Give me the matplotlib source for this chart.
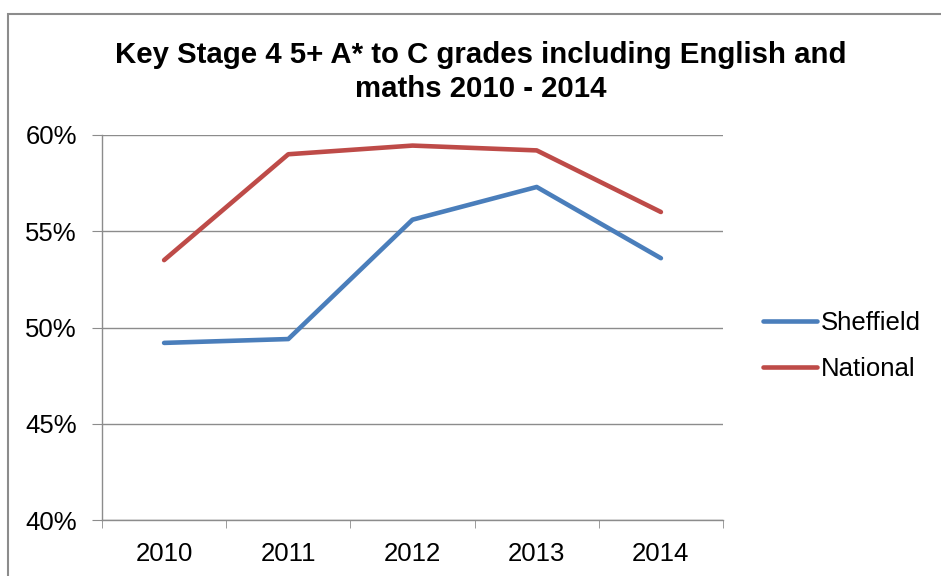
import matplotlib
matplotlib.use("Agg")
import matplotlib.pyplot as plt
from matplotlib.patches import Rectangle
from matplotlib.ticker import FixedLocator, PercentFormatter

years = ["2010", "2011", "2012", "2013", "2014"]
sheffield = [49.2, 49.4, 55.6, 57.3, 53.6]
national = [53.5, 59.0, 59.45, 59.2, 56.0]
y_ticks = [40, 45, 50, 55, 60]

plt.rcParams['font.family'] = ['Liberation Sans', 'DejaVu Sans']

fig = plt.figure(figsize=(9.41, 5.76), dpi=100)
ax = fig.add_axes([102 / 941, 56 / 576, 621 / 941, 385 / 576])

x = list(range(len(years)))
ax.plot(x, sheffield, color="#4A7EBB", lw=3.3, solid_capstyle="round", label="Sheffield")
ax.plot(x, national, color="#BE4B48", lw=3.3, solid_capstyle="round", label="National")

ax.set_xlim(-0.5, len(years) - 0.5)
ax.set_ylim(40, 60)

# y axis
ax.set_yticks(y_ticks)
ax.yaxis.set_major_formatter(PercentFormatter(decimals=0))
ax.yaxis.grid(True, color="#8c8c8c", lw=1)
ax.tick_params(axis="y", length=7, color="#8c8c8c", labelsize=18.5, pad=11)

# x axis: labels at centres, tick marks between categories
ax.set_xticks(x)
ax.set_xticklabels(years)
ax.xaxis.set_minor_locator(FixedLocator([i - 0.5 for i in range(len(years) + 1)]))
ax.tick_params(axis="x", which="major", length=0, labelsize=18.5, pad=16)
ax.tick_params(axis="x", which="minor", length=6, color="#8c8c8c")

for side in ["top", "right"]:
    ax.spines[side].set_visible(False)
for side in ["left", "bottom"]:
    ax.spines[side].set_color("#8c8c8c")
    ax.spines[side].set_linewidth(1)
ax.set_axisbelow(True)

fig.text(481 / 941, 1 - 72 / 576,
         "Key Stage 4 5+ A* to C grades including English and\nmaths 2010 - 2014",
         ha="center", va="center", fontsize=21.2, fontweight="bold", linespacing=1.25)

fig.legend(loc="center left", bbox_to_anchor=(763 / 941, 1 - 346 / 576),
           frameon=False, fontsize=18.5, handlelength=2.1, handletextpad=0.15,
           labelspacing=0.88, borderpad=0, borderaxespad=0)

# outer chart border (cropped on the right and bottom)
fig.patches.append(Rectangle((8 / 941, -0.1), 1.2, 1 - 14 / 576 + 0.1,
                             transform=fig.transFigure, fill=False,
                             edgecolor="#8c8c8c", lw=1.5, clip_on=False))

fig.savefig("out.png", dpi=100)
